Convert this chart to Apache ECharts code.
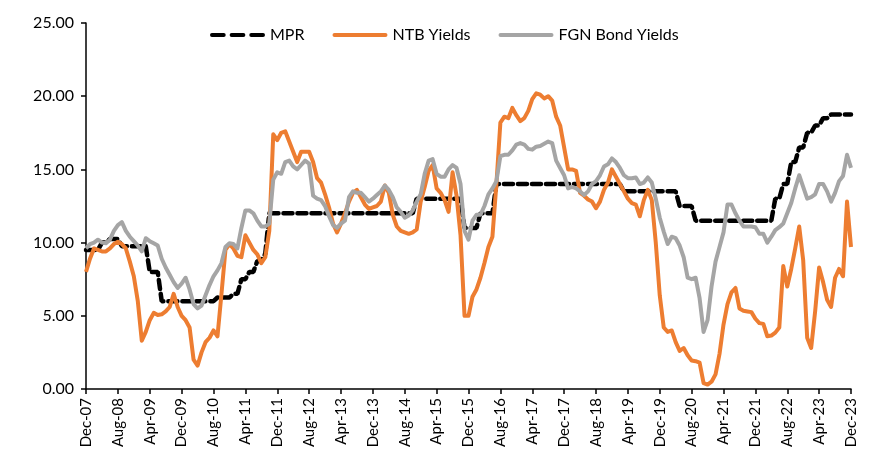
<!DOCTYPE html>
<html>
<head>
<meta charset="utf-8">
<script src="https://cdn.jsdelivr.net/npm/echarts@6/dist/echarts.min.js"></script>
<style>
  html, body { margin: 0; padding: 0; background: #fff; }
  #chart { width: 880px; height: 467px; }
</style>
</head>
<body>
<div id="chart"></div>
<script>
// monthly observations, Dec-07 .. Dec-23
let monthNames = ['Jan','Feb','Mar','Apr','May','Jun','Jul','Aug','Sep','Oct','Nov','Dec'];
let categories = [];
for (let y = 2007; y <= 2023; y++) {
    for (let m = 0; m < 12; m++) {
        if (y === 2007 && m < 11) continue;
        categories.push(monthNames[m] + '-' + String(y).slice(2));
    }
}

let mpr = [
    9.5, 9.5, 9.5, 9.5, 10, 10, 10.25, 10.25, 10.25, 9.75, 9.75, 9.75,
    9.75, 9.75, 9.75, 9.75, 8, 8, 8, 6, 6, 6, 6, 6,
    6, 6, 6, 6, 6, 6, 6, 6, 6, 6.25, 6.25, 6.25,
    6.25, 6.5, 6.5, 7.5, 7.5, 8, 8, 8.75, 8.75, 9.25, 12, 12,
    12, 12, 12, 12, 12, 12, 12, 12, 12, 12, 12, 12,
    12, 12, 12, 12, 12, 12, 12, 12, 12, 12, 12, 12,
    12, 12, 12, 12, 12, 12, 12, 12, 12, 12, 12, 13,
    13, 13, 13, 13, 13, 13, 13, 13, 13, 13, 13, 11,
    11, 11, 11, 12, 12, 12, 12, 14, 14, 14, 14, 14,
    14, 14, 14, 14, 14, 14, 14, 14, 14, 14, 14, 14,
    14, 14, 14, 14, 14, 14, 14, 14, 14, 14, 14, 14,
    14, 14, 14, 13.5, 13.5, 13.5, 13.5, 13.5, 13.5, 13.5, 13.5, 13.5,
    13.5, 13.5, 13.5, 13.5, 13.5, 12.5, 12.5, 12.5, 12.5, 11.5, 11.5, 11.5,
    11.5, 11.5, 11.5, 11.5, 11.5, 11.5, 11.5, 11.5, 11.5, 11.5, 11.5, 11.5,
    11.5, 11.5, 11.5, 11.5, 11.5, 13, 13, 14, 14, 15.5, 15.5, 16.5,
    16.5, 17.5, 17.5, 18, 18, 18.5, 18.5, 18.75, 18.75, 18.75, 18.75, 18.75,
    18.75
];

let ntb = [
    8.0, 8.9, 9.6, 9.5, 9.4, 9.4, 9.6, 9.9, 10.05, 9.9, 9.6, 8.7,
    7.7, 6.0, 3.3, 3.9, 4.7, 5.2, 5.05, 5.1, 5.3, 5.6, 6.5, 5.6,
    5.0, 4.7, 4.2, 2.0, 1.6, 2.5, 3.2, 3.5, 4.0, 3.6, 6.5, 9.5,
    9.9, 9.6, 9.1, 9.0, 10.5, 10.0, 9.5, 9.2, 8.6, 9.0, 10.8, 17.4,
    17.0, 17.5, 17.6, 16.9, 16.2, 15.5, 16.2, 16.2, 16.2, 15.5, 14.4, 14.1,
    13.3, 12.4, 11.3, 10.7, 11.3, 12.0, 12.8, 13.4, 13.6, 13.1, 12.6, 12.3,
    12.4, 12.5, 12.8, 13.9, 13.4, 11.9, 11.1, 10.8, 10.7, 10.6, 10.7, 10.9,
    12.8, 13.8, 14.9, 15.3, 13.7, 13.4, 12.9, 12.1, 14.8, 13.2, 10.5, 5.0,
    5.0, 6.3, 6.8, 7.6, 8.6, 9.7, 10.4, 14.0, 18.2, 18.6, 18.5, 19.2,
    18.7, 18.3, 18.5, 19.0, 19.8, 20.2, 20.1, 19.85, 20.0, 19.7, 18.6, 18.0,
    16.5, 15.0, 15.0, 14.9, 13.4, 13.2, 12.95, 12.8, 12.35, 12.8, 13.6, 14.1,
    15.0, 14.5, 14.0, 13.5, 13.0, 12.7, 12.6, 11.8, 12.9, 13.6, 12.9, 10.0,
    6.4, 4.2, 3.9, 4.0, 3.2, 2.6, 2.8, 2.3, 1.95, 1.9, 1.8, 0.4,
    0.3, 0.5, 1.0, 2.4, 4.4, 5.8, 6.6, 6.9, 5.5, 5.35, 5.3, 5.25,
    4.8, 4.5, 4.45, 3.6, 3.65, 3.85, 4.2, 8.4, 7.0, 8.2, 9.6, 11.1,
    8.8, 3.5, 2.8, 5.3, 8.3, 7.3, 6.1, 5.6, 7.6, 8.2, 7.7, 12.8,
    9.7
];

let fgn = [
    9.6, 9.9, 10.0, 10.2, 10.0, 9.95, 10.2, 10.8, 11.2, 11.4, 10.8, 10.4,
    10.1, 9.8, 9.4, 10.3, 10.1, 9.95, 9.8, 8.9, 8.3, 7.8, 7.3, 6.9,
    7.2, 7.6, 6.8, 5.8, 5.5, 5.7, 6.4, 7.1, 7.7, 8.1, 8.6, 9.7,
    9.95, 9.9, 9.6, 11.0, 12.2, 12.2, 12.0, 11.5, 11.1, 11.1, 11.3, 14.3,
    14.8, 14.7, 15.5, 15.6, 15.2, 15.0, 15.3, 15.6, 15.4, 13.2, 13.0, 12.9,
    12.5, 11.8, 11.2, 11.0, 11.3, 11.5, 13.1, 13.5, 13.4, 13.4, 13.1, 12.8,
    13.0, 13.25, 13.5, 13.9, 13.6, 13.1, 12.4, 12.1, 11.7, 11.85, 12.2, 12.8,
    13.3, 14.7, 15.6, 15.7, 14.7, 14.5, 14.5, 15.0, 15.3, 15.1, 14.0, 10.8,
    10.2, 11.5, 11.9, 11.9, 12.5, 13.3, 13.7, 14.2, 15.9, 16.0, 16.0, 16.3,
    16.7, 16.8, 16.7, 16.4, 16.35, 16.55, 16.6, 16.75, 16.9, 16.8, 15.6, 15.1,
    14.6, 13.7, 13.8, 13.7, 13.5, 13.25, 13.5, 14.0, 14.2, 14.6, 15.2, 15.35,
    15.75, 15.5, 15.1, 14.6, 14.4, 14.4, 14.45, 14.0, 14.1, 14.45, 14.1, 13.0,
    11.7, 10.75, 9.9, 10.4, 10.3, 9.8, 9.0, 7.6, 7.5, 7.6, 6.2, 3.9,
    4.7, 7.0, 8.7, 9.7, 10.7, 12.6, 12.6, 12.0, 11.5, 11.1, 11.1, 11.1,
    11.05, 10.6, 10.6, 10.0, 10.4, 10.85, 11.05, 11.3, 12.0, 12.7, 13.7, 14.6,
    13.8, 13.0, 13.1, 13.3, 14.0, 14.0, 13.5, 12.8, 13.4, 14.2, 14.55, 16.0,
    15.1
];

let seriesNames = ['MPR', 'NTB Yields', 'FGN Bond Yields'];
let seriesColors = ['#000000', '#ED7D31', '#A5A5A5'];

let chart = echarts.init(document.getElementById('chart'));
let fontFamily = 'Lato, "Liberation Sans", sans-serif';

// legend icons drawn as short line segments, like the spreadsheet legend
let dashIcon = 'path://M2,0h12a2,2 0 0 1 0,4h-12a2,2 0 0 1 0,-4z' +
    'M22,0h12a2,2 0 0 1 0,4h-12a2,2 0 0 1 0,-4z' +
    'M42,0h12a2,2 0 0 1 0,4h-12a2,2 0 0 1 0,-4z';
let lineIcon = 'path://M2,0h51a2,2 0 0 1 0,4h-51a2,2 0 0 1 0,-4z';

let option = {
    animation: false,
    textStyle: { fontFamily: fontFamily },
    legend: {
        top: 22,
        left: 205,
        itemWidth: 55,
        itemHeight: 4,
        itemGap: 28,
        textStyle: { fontSize: 16, color: '#000', fontFamily: fontFamily },
        data: [
            { name: seriesNames[0], icon: dashIcon },
            { name: seriesNames[1], icon: lineIcon },
            { name: seriesNames[2], icon: lineIcon }
        ]
    },
    grid: { left: 86, right: 29, top: 23, bottom: 78 },
    xAxis: {
        type: 'category',
        data: categories,
        boundaryGap: false,
        axisLine: { lineStyle: { color: '#000', width: 1.5 } },
        axisTick: { interval: 7, length: 5, lineStyle: { color: '#000', width: 1.5 } },
        axisLabel: {
            interval: 7,
            rotate: 90,
            margin: 9,
            fontSize: 15,
            color: '#000',
            fontFamily: fontFamily
        }
    },
    yAxis: {
        type: 'value',
        min: 0,
        max: 25,
        interval: 5,
        splitLine: { show: false },
        axisLine: { show: true, lineStyle: { color: '#000', width: 1.5 } },
        axisTick: { show: true, length: 5, lineStyle: { color: '#000', width: 1.5 } },
        axisLabel: {
            margin: 12,
            fontSize: 16,
            color: '#000',
            fontFamily: fontFamily,
            formatter: function (v) { return v.toFixed(2); }
        }
    },
    series: [{
        name: seriesNames[0],
        type: 'line',
        data: mpr,
        symbol: 'none',
        z: 1,
        itemStyle: { color: seriesColors[0] },
        lineStyle: { color: seriesColors[0], width: 4.5, type: [9, 5], cap: 'round' }
    }, {
        name: seriesNames[1],
        type: 'line',
        data: ntb,
        symbol: 'none',
        z: 2,
        itemStyle: { color: seriesColors[1] },
        lineStyle: { color: seriesColors[1], width: 4, join: 'round' }
    }, {
        name: seriesNames[2],
        type: 'line',
        data: fgn,
        symbol: 'none',
        z: 3,
        itemStyle: { color: seriesColors[2] },
        lineStyle: { color: seriesColors[2], width: 4, join: 'round' }
    }]
};

chart.setOption(option);
</script>
</body>
</html>
